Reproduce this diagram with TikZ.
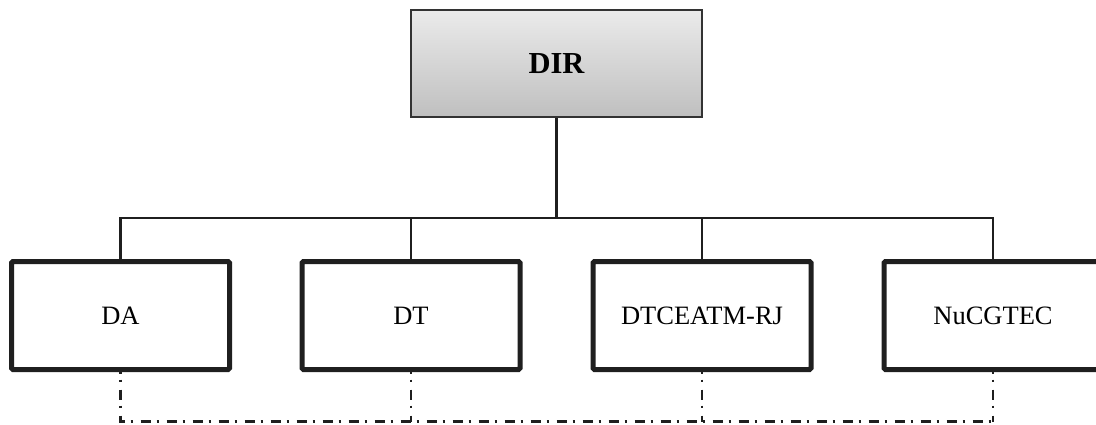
\documentclass[tikz,border=0pt]{standalone}
\usepackage{fontspec}
\setmainfont{Liberation Serif}
\begin{document}
\begin{tikzpicture}[x=1pt,y=-1pt,
  unit/.style={draw=black!88, line width=5pt, rounded corners=1.5pt, fill=white,
    minimum width=218pt, minimum height=108pt, inner sep=0pt,
    font=\fontsize{26.5}{31}\selectfont},
  head/.style={draw=black!80, line width=2.2pt, top color=black!8, bottom color=black!25,
    minimum width=291pt, minimum height=107pt, inner sep=0pt,
    font=\fontsize{30.5}{35}\selectfont\bfseries},
  link/.style={draw=black!88, line width=2.4pt},
  liaison/.style={draw=black!88, line width=2.4pt,
    dash pattern=on 10pt off 6pt on 2pt off 8pt, dash phase=8.5pt}]
\useasboundingbox (0,0) rectangle (1096,424);
\clip (0,0) rectangle (1096,424);

% director and the four units
\node[head] (dir) at (556.5,63.5) {DIR};
\node[unit] (da)  at (120.5,315.5) {DA};
\node[unit] (dt)  at (411,315.5) {DT};
\node[unit] (dtc) at (702,315.5) {DTCEATM-RJ};
\node[unit] (nu)  at (993,315.5) {NuCGTEC};

% hierarchy bus
\coordinate (bus) at (556.5,218);
\draw[link] (dir.south) -- (bus);
\draw[link] (da.north) |- (bus);
\draw[link] (nu.north) |- (bus);
\draw[link] (dt.north) -- (dt.north |- bus);
\draw[link] (dtc.north) -- (dtc.north |- bus);

% coordination line below the units
\coordinate (low) at (556.5,421.5);
\draw[liaison] (da.south) -- (da.south |- low) -- (nu.south |- low);
\draw[liaison] (nu.south) -- (nu.south |- low);
\draw[liaison] (dt.south) -- (dt.south |- low);
\draw[liaison] (dtc.south) -- (dtc.south |- low);
\end{tikzpicture}
\end{document}
